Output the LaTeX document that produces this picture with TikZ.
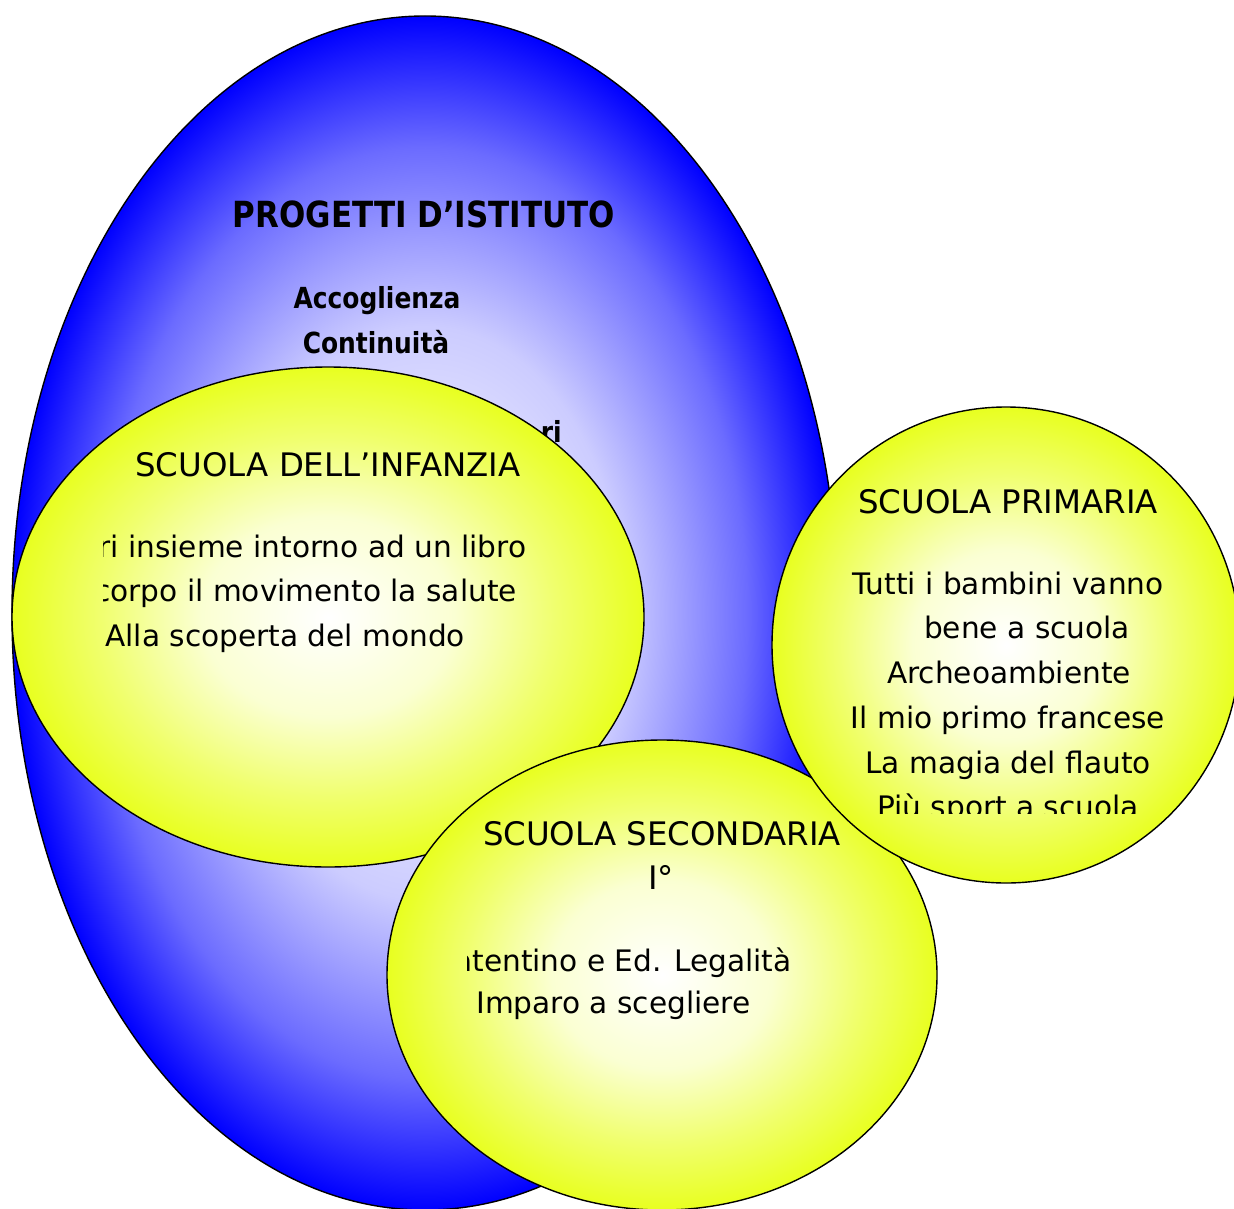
\documentclass[tikz,border=0pt]{standalone}
\usepackage{fontspec}
\setmainfont{DejaVu Sans}
\newfontfamily\boldnarrow{DejaVu Sans}[FakeStretch=0.86]
\usepackage{xcolor}
\usepackage{tikz}
\usetikzlibrary{shapes.geometric}
\definecolor{egg}{RGB}{0,0,255}
\definecolor{yolk}{RGB}{232,255,32}
\pgfdeclareradialshading{eggfade}{\pgfpoint{0bp}{0bp}}{color(0bp)=(white); color(12bp)=(white!80!egg);
  color(19.5bp)=(white!42!egg); color(25bp)=(egg); color(50bp)=(egg)}
\pgfdeclareradialshading{yolkfade}{\pgfpoint{0bp}{0bp}}{color(0bp)=(white); color(10bp)=(white!80!yolk);
  color(18bp)=(white!35!yolk); color(25bp)=(yolk); color(50bp)=(yolk)}
\tikzstyle{school} = [ellipse, draw=black, line width=0.7pt, inner sep=0pt, shade, shading=yolkfade]

\begin{document}
\begin{tikzpicture}[x=0.5pt, y=-0.5pt,
    head/.style={anchor=base, inner sep=0pt, font=\fontsize{16.2}{19}\selectfont},
    txt/.style={inner sep=0pt, font=\fontsize{14.8}{18}\selectfont},
    boldline/.style={anchor=base, inner sep=0pt, font=\boldnarrow\bfseries\fontsize{14.5}{18}\selectfont}]
    \clip (0,0) rectangle (1234,1208);

    % Progetti d'istituto
    \node[ellipse, draw=black, line width=0.7pt, inner sep=0pt, shade, shading=eggfade,
          minimum width=413pt, minimum height=597pt] (istituto) at (425,613) {};
    \node[boldline, font=\boldnarrow\bfseries\fontsize{18}{22}\selectfont] (progetti) at (424,228) {PROGETTI D’ISTITUTO};
    \node[boldline] (accoglienza) at (377,308) {Accoglienza};
    \node[boldline] (continuita) at (376,353) {Continuità};
    \node[boldline, anchor=base east] (nascosto) at (562,442) {ri};

    % Scuola dell'infanzia
    \node[school, minimum width=316pt, minimum height=250pt] (infanzia) at (328,617) {};
    \node[head] (infTitle) at (328,476) {SCUOLA DELL’INFANZIA};
    \begin{scope}
      \clip (103,500) rectangle (640,700);
      \node[txt, anchor=base west] (inf1) at (98,557) {ri insieme intorno ad un libro};
      \node[txt, anchor=base west] (inf2) at (94,601) {corpo il movimento la salute};
      \node[txt, anchor=base west] (inf3) at (105,646) {Alla scoperta del mondo};
    \end{scope}

    % Scuola secondaria
    \node[school, minimum width=275pt, minimum height=235pt] (secondaria) at (662,975) {};
    \node[head] (secTitle) at (662,845) {SCUOLA SECONDARIA};
    \node[head] (secGrade) at (661,889) {I°};
    \begin{scope}
      \clip (467,930) rectangle (900,1040);
      \node[txt, anchor=base west] (sec1) at (454,971) {atentino e Ed. Legalità};
      \node[txt, anchor=base west] (sec2) at (476,1013) {Imparo a scegliere};
    \end{scope}

    % Scuola primaria
    \node[school, minimum width=234pt, minimum height=238pt] (primaria) at (1006,645) {};
    \node[head] (priTitle) at (1008,513) {SCUOLA PRIMARIA};
    \begin{scope}
      \clip (780,540) rectangle (1234,813);
      \foreach \px/\py/\words [count=\i] in {1008/594/Tutti i bambini vanno, 1027/638.5/bene a scuola,
          1009/683/Archeoambiente, 1008/728/Il mio primo francese, 1008/773/La magia del flauto,
          1008/817.5/Più sport a scuola}
        \node[txt, anchor=base] (pri\i) at (\px,\py) {\words};
    \end{scope}
\end{tikzpicture}
\end{document}
